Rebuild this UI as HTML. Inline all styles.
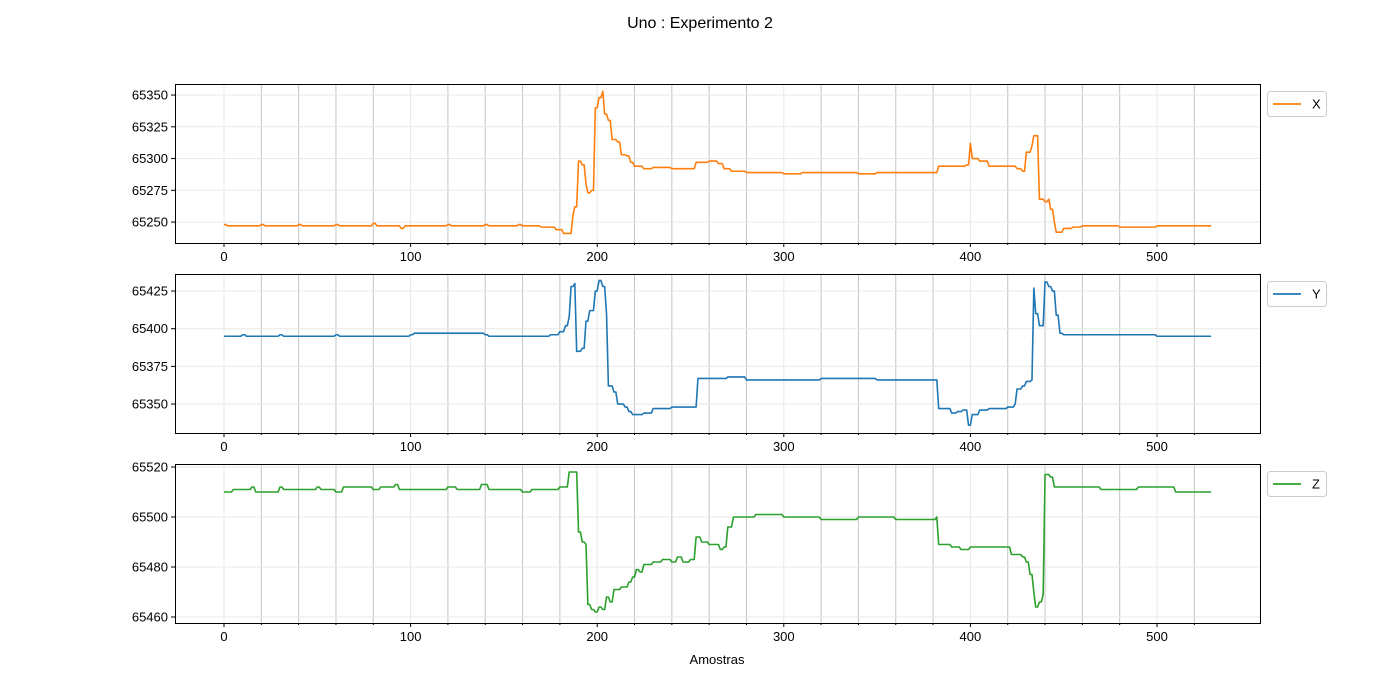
<!DOCTYPE html>
<html><head><meta charset="utf-8"><style>
body{margin:0;background:#fff;}
svg{display:block;font-family:"Liberation Sans","DejaVu Sans",sans-serif;}
</style></head><body>
<svg id="chart" width="1400" height="700" xmlns="http://www.w3.org/2000/svg">
<text x="700" y="28" font-size="16" text-anchor="middle">Uno : Experimento 2</text>
<text x="717" y="664" font-size="13" text-anchor="middle">Amostras</text>
</svg>
<script>
// X series: breakpoints (sample index) and held values
const xIdx = [0,2,20,22,40,42,60,62,80,82,95,97,120,122,140,142,158,160,170,178,182,185,187,188,190,192,194,195,197,199,201,203,204,206,208,211,213,216,218,220,225,230,240,250,253,260,265,268,272,280,300,310,320,340,350,360,380,383,398,400,401,405,410,420,425,428,430,433,434,436,437,440,442,443,445,446,450,455,460,480,500,530];
const xVal = [65248,65247,65248,65247,65248,65247,65248,65247,65249,65247,65245,65247,65248,65247,65248,65247,65248,65247,65246,65244,65241,65241,65255,65262,65298,65295,65280,65273,65275,65340,65348,65353,65335,65330,65315,65313,65303,65302,65297,65294,65292,65293,65292,65292,65297,65298,65296,65292,65290,65289,65288,65289,65289,65288,65289,65289,65289,65294,65295,65312,65300,65298,65294,65294,65292,65290,65305,65310,65318,65318,65268,65266,65268,65260,65250,65242,65245,65246,65247,65246,65247,65246];
// Y series
const yIdx = [0,10,12,30,32,60,62,100,102,140,142,175,180,183,185,186,188,189,192,194,196,199,201,203,205,206,209,211,215,217,219,225,230,240,250,254,260,270,280,300,320,350,382,383,388,390,393,396,399,401,405,410,420,424,425,428,430,433,434,435,437,440,442,444,446,448,450,480,500,530];
const yVal = [65395,65396,65395,65396,65395,65396,65395,65396,65397,65396,65395,65396,65398,65402,65408,65428,65430,65385,65387,65405,65412,65425,65432,65428,65410,65362,65358,65350,65348,65345,65343,65344,65347,65348,65348,65367,65367,65368,65366,65366,65367,65366,65366,65347,65347,65344,65345,65346,65336,65343,65346,65347,65348,65350,65360,65362,65365,65366,65427,65410,65402,65431,65428,65425,65409,65397,65396,65396,65395,65395];
// Z series
const zIdx = [0,5,15,17,30,32,50,52,60,64,80,84,92,94,120,125,138,142,160,165,180,185,189,190,192,194,195,197,199,201,203,205,207,209,213,217,219,221,223,225,230,235,240,243,246,250,253,256,260,266,268,270,273,285,300,320,340,360,382,383,390,395,400,420,422,428,430,432,434,435,437,439,440,443,445,470,490,510,530];
const zVal = [65510,65511,65512,65510,65512,65511,65512,65511,65510,65512,65511,65512,65513,65511,65512,65511,65513,65511,65510,65511,65512,65518,65518,65494,65490,65489,65465,65463,65462,65464,65463,65468,65466,65471,65472,65474,65476,65479,65478,65481,65482,65483,65482,65484,65482,65483,65492,65490,65489,65487,65488,65496,65500,65501,65500,65499,65500,65499,65500,65489,65488,65487,65488,65488,65485,65484,65482,65477,65470,65464,65466,65469,65517,65516,65512,65511,65512,65510,65512];
const nSamples = 530;
const xTicks = [0,100,200,300,400,500];
const panels = [
  {name:'x', label:'X', color:'#ff7f0e', idx:xIdx, val:xVal, top:84, ymin:65233.5, ymax:65358.7, ticks:[65250,65275,65300,65325,65350]},
  {name:'y', label:'Y', color:'#1f77b4', idx:yIdx, val:yVal, top:274, ymin:65330.8, ymax:65436.3, ticks:[65350,65375,65400,65425]},
  {name:'z', label:'Z', color:'#2ca02c', idx:zIdx, val:zVal, top:464, ymin:65457.6, ymax:65521.2, ticks:[65460,65480,65500,65520]}
];
const NS='http://www.w3.org/2000/svg';
const svg=document.getElementById('chart');
const L=175,R=1260,H=159;
const xs=v=>224+(v-0)*(1157-224)/500;
function mk(tag,attrs,parent){const e=document.createElementNS(NS,tag);for(const k in attrs)e.setAttribute(k,attrs[k]);(parent||svg).appendChild(e);return e;}
function expand(idx,val){const out=[];let j=0;for(let i=0;i<nSamples;i++){while(j+1<idx.length&&idx[j+1]<=i)j++;out.push(val[j]);}return out;}
panels.forEach(p=>{
  const g=mk('g',{});
  
  
  const T=p.top,B=T+H;
  const ys=v=>B-(v-p.ymin)*H/(p.ymax-p.ymin);
  for(let m=20;m<=520;m+=20){
    const x=xs(m);
    const major=m%100===0;
    const ln=mk('line',{x1:x,x2:x,y1:T,y2:B,stroke:major?'#e8e8e8':'#c4c4c4','stroke-width':1},g);
    
    
    if(!major){mk('line',{x1:x,x2:x,y1:B,y2:B+2,stroke:'#000'},g);}
  }
  mk('line',{x1:xs(0),x2:xs(0),y1:T,y2:B,stroke:'#e8e8e8'},g);
  p.ticks.forEach(t=>{
    const y=ys(t);
    const ln=mk('line',{x1:L,x2:R,y1:y,y2:y,stroke:'#e8e8e8'},g);
    
    
    mk('line',{x1:L-4,x2:L,y1:y,y2:y,stroke:'#000'},g);
    const tx=mk('text',{x:L-7,y:y+4.5,'font-size':13,'text-anchor':'end'},g);
    tx.textContent=t;
    
    
  });
  xTicks.forEach(t=>{
    const x=xs(t);
    mk('line',{x1:x,x2:x,y1:B,y2:B+4,stroke:'#000'},g);
    const tx=mk('text',{x:x,y:B+18,'font-size':13,'text-anchor':'middle'},g);
    tx.textContent=t;
    
    
  });
  const data=expand(p.idx,p.val);
  const d=data.map((v,i)=>(i?'L':'M')+xs(i).toFixed(2)+' '+ys(v).toFixed(2)).join('');
  const path=mk('path',{d:d,fill:'none',stroke:p.color,'stroke-width':1.6,'stroke-linejoin':'round'},g);
  
  
  const fr=mk('rect',{x:L+0.5,y:T+0.5,width:R-L,height:H,fill:'none',stroke:'#000','stroke-width':1},g);
  
  
  const lg=mk('g',{},g);
  
  
  mk('rect',{x:1267.5,y:T+7.5,width:59,height:25,rx:3,fill:'#fff',stroke:'#ccc'},lg);
  mk('line',{x1:1273,x2:1301,y1:T+20,y2:T+20,stroke:p.color,'stroke-width':1.8},lg);
  const lt=mk('text',{x:1312,y:T+24.5,'font-size':13},lg);
  lt.textContent=p.label;
});
</script>
</body></html>
